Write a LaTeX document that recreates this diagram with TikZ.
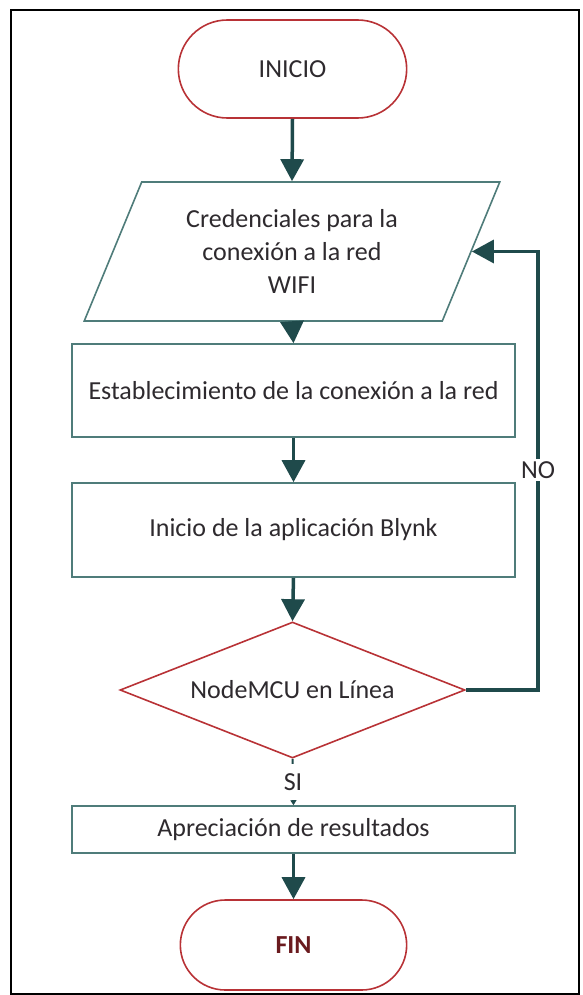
\documentclass[tikz,border=0pt]{standalone}
\usepackage{fontspec}
\setmainfont{Carlito}
\usetikzlibrary{arrows.meta,positioning,shapes.geometric,shapes.misc}
\definecolor{redline}{HTML}{B83236}
\definecolor{tealline}{HTML}{4F7C7A}
\definecolor{arrowc}{HTML}{1F4A4B}
\definecolor{txt}{HTML}{2E2A2E}
\definecolor{fintxt}{HTML}{6A1A1E}
\newcommand{\chartfont}{\fontsize{26}{33}\selectfont}
\tikzset{
  term/.style={draw=redline, rounded rectangle, line width=1.6pt, minimum width=235pt, minimum height=98pt, font=\chartfont, text=txt},
  io/.style={draw=tealline, trapezium, trapezium left angle=65.3, trapezium right angle=114.7, trapezium stretches=true, line width=1.6pt, minimum width=416pt, minimum height=139pt, align=center, font=\chartfont, text=txt},
  proc/.style={draw=tealline, rectangle, line width=1.6pt, minimum width=443pt, align=center, font=\chartfont, text=txt},
  decis/.style={draw=redline, diamond, aspect=2.54, inner sep=0pt, line width=1.6pt, minimum width=345pt, minimum height=136pt, font=\chartfont, text=txt},
  arr/.style={-{Triangle[length=22pt,width=23pt]}, line width=3.5pt, draw=arrowc},
  arrthin/.style={-{Triangle[length=5pt,width=6pt]}, line width=2pt, draw=arrowc},
  lbl/.style={fill=white, font=\chartfont, text=txt, inner sep=2pt},
}
\begin{document}
\begin{tikzpicture}[x=1pt,y=-1pt]
\useasboundingbox (0,0) rectangle (582,995);
\draw[line width=2pt] (11,10) rectangle (579,994);
\node[term] (start) at (292.5,69) {INICIO};
\node[io] (cred) at (292,251.5) {Credenciales para la\\conexión a la red\\WIFI};
\node[proc, minimum height=93pt] (conn) at (293.5,390.5) {Establecimiento de la conexión a la red};
\node[proc, minimum height=94pt] (blynk) at (293.5,530) {Inicio de la aplicación Blynk};
\node[decis] (dec) at (292.5,690) {NodeMCU en Línea};
\node[proc, minimum height=47pt] (res) at (293.5,829.5) {Apreciación de resultados};
\node[term, minimum width=233pt, minimum height=90pt, text=fintxt, font=\chartfont\bfseries] (fin) at (293.5,945) {FIN};
\coordinate (bend) at (538,690);
\draw[arr] (start.south) -- (cred.north);
\draw[arr] (cred.south) -- (conn.north);
\draw[arr] (conn.south) -- (blynk.north);
\draw[arr] (blynk.south) -- (dec.north);
\draw[arr] (dec.east) -- (bend) |- (cred.east);
\node[lbl] (no) at (538,470) {NO};
\draw[arrthin] (dec.south) -- node[lbl, minimum height=36pt] (si) {SI} (res.north);
\draw[arr] (res.south) -- (fin.north);
\end{tikzpicture}
\end{document}
